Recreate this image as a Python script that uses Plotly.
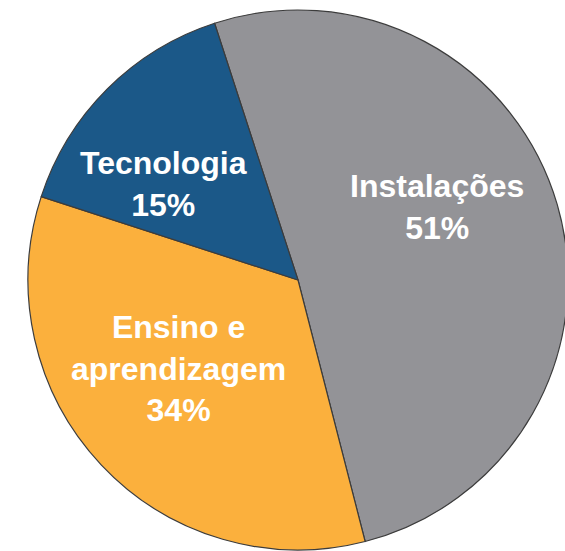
import math
import plotly.graph_objects as go

# budget shares
labels = ["Instalações", "Ensino e<br>aprendizagem", "Tecnologia"]
values = [51, 34, 15]
colors = ["#939397", "#fbb03d", "#1b5888"]

W, H = 600, 600
cx, cy, r = 298, 280, 270   # pie centre / radius in page pixels
start = -18                 # first slice starts a bit left of 12 o'clock

# label placement tweaks (radius fraction, angular shift in degrees)
lab_rad = [0.58, 0.55, 0.61]
lab_shift = [-11.5, 6.5, -9.5]

fig = go.Figure(go.Pie(
    labels=[l.replace("<br>", " ") for l in labels],
    values=values,
    textinfo="none",
    sort=False,
    direction="clockwise",
    rotation=start,
    marker=dict(colors=colors, line=dict(color="#3c3c3c", width=1.2)),
    hoverinfo="label+percent",
    domain=dict(x=[(cx - r) / W, (cx + r) / W], y=[(H - cy - r) / H, (H - cy + r) / H]),
))

total = sum(values)
acc = 0
for lab, v, fr, sh in zip(labels, values, lab_rad, lab_shift):
    mid = start + 360 * (acc + v / 2) / total + sh
    acc += v
    a = math.radians(mid)
    px_ = cx + fr * r * math.sin(a)
    py_ = cy - fr * r * math.cos(a)
    fig.add_annotation(
        x=px_ / W, y=(H - py_) / H, xref="paper", yref="paper",
        text="<b>%s<br>%d%%</b>" % (lab, round(100 * v / total)),
        showarrow=False, xanchor="center", yanchor="middle", align="center",
        font=dict(family="Arial, Liberation Sans, sans-serif", size=32, color="white"),
    )

fig.update_layout(
    width=W, height=H,
    autosize=False,
    margin=dict(l=0, r=0, t=0, b=0),
    showlegend=False,
    paper_bgcolor="white",
)

fig.write_html("out.html", config={"displayModeBar": False},
               post_script="document.body.style.margin='0';document.body.style.overflow='hidden';")
